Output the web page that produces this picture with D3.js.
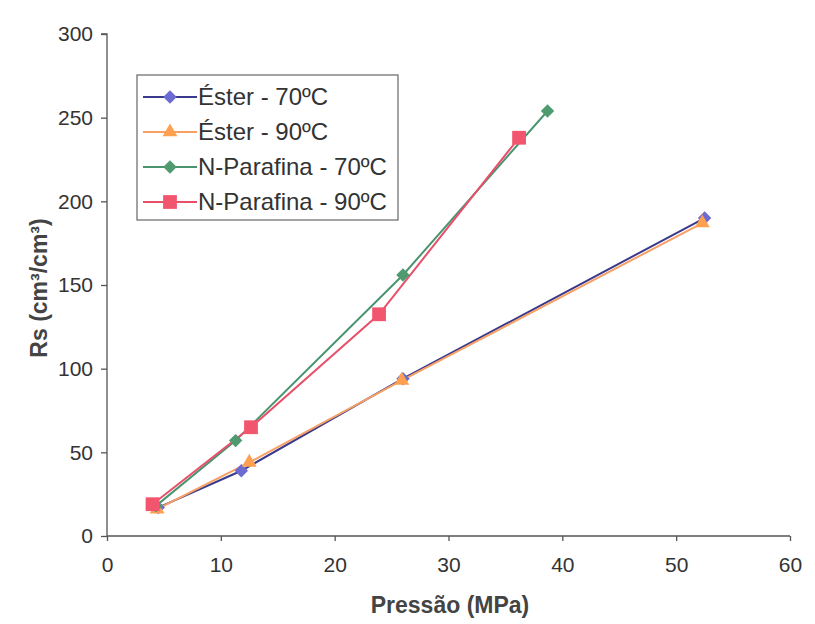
<!DOCTYPE html>
<html><head><meta charset="utf-8">
<script src="https://cdn.jsdelivr.net/npm/d3@7"></script>
<style>body{margin:0;background:#fff;} text{font-family:"Liberation Sans",Arial,sans-serif;}</style>
</head><body><svg id="c" width="815" height="624"></svg>
<script>
const seriesNames = ["Éster - 70ºC", "Éster - 90ºC", "N-Parafina - 70ºC", "N-Parafina - 90ºC"];
const esterX70 = [4.5, 11.8, 26.0, 52.5];
const esterY70 = [17, 39, 94, 190];
const esterX90 = [4.4, 12.5, 25.9, 52.3];
const esterY90 = [16, 44, 93, 187];
const parX70 = [4.3, 11.3, 26.0, 38.7];
const parY70 = [18, 57, 156, 254];
const parX90 = [4.0, 12.65, 23.9, 36.2];
const parY90 = [19, 65, 132.5, 238];
const xTicks = [0, 10, 20, 30, 40, 50, 60];
const yTicks = [0, 50, 100, 150, 200, 250, 300];

const diamond = { draw(ctx, size) { const r = Math.sqrt(size / 2); ctx.moveTo(0, -r); ctx.lineTo(r, 0); ctx.lineTo(0, r); ctx.lineTo(-r, 0); ctx.closePath(); } };

const series = [
  {name: seriesNames[0], xs: esterX70, ys: esterY70, line: "#3a3a8c", fill: "#6b6bd2", sym: diamond, size: 90},
  {name: seriesNames[1], xs: esterX90, ys: esterY90, line: "#f7a066", fill: "#ffa050", sym: d3.symbolTriangle, size: 95},
  {name: seriesNames[2], xs: parX70, ys: parY70, line: "#4a9470", fill: "#4f9a6e", sym: diamond, size: 90},
  {name: seriesNames[3], xs: parX90, ys: parY90, line: "#e8506a", fill: "#f2566e", sym: d3.symbolSquare, size: 190}
];

const svg = d3.select("#c");
const x = d3.scaleLinear().domain([0, 60]).range([107, 790]);
const y = d3.scaleLinear().domain([0, 300]).range([536, 34]);

const xAxis = svg.append("g").attr("transform", "translate(0,536)")
  .call(d3.axisBottom(x).tickValues(xTicks).tickSize(5).tickPadding(16).tickFormat(d3.format("d")));
const yAxis = svg.append("g").attr("transform", "translate(107,0)")
  .call(d3.axisLeft(y).tickValues(yTicks).tickSize(6).tickPadding(8).tickFormat(d3.format("d")));
[xAxis, yAxis].forEach(a => {
  a.selectAll("path,line").attr("stroke", "#555").attr("stroke-width", 1.3);
  a.selectAll("text").attr("font-size", 21).attr("fill", "#333").style("font-family", "Liberation Sans, Arial, sans-serif");
});
xAxis.select(".domain").attr("d", "M107,0H790");
yAxis.select(".domain").attr("d", "M-6,34H0V536");

svg.append("text").attr("x", 450).attr("y", 613).attr("text-anchor", "middle")
  .attr("font-size", 23).attr("font-weight", "bold").attr("fill", "#444").text("Pressão (MPa)");
svg.append("text").attr("transform", "translate(47,288) rotate(-90)").attr("text-anchor", "middle")
  .attr("font-size", 23).attr("font-weight", "bold").attr("fill", "#444").text("Rs (cm³/cm³)");

const line = d3.line().x(d => x(d[0])).y(d => y(d[1]));
series.forEach(s => {
  const pts = s.xs.map((v, i) => [v, s.ys[i]]);
  svg.append("path").datum(pts).attr("d", line).attr("fill", "none")
    .attr("stroke", s.line).attr("stroke-width", 2);
});
series.forEach(s => {
  const pts = s.xs.map((v, i) => [v, s.ys[i]]);
  svg.append("g").selectAll("path").data(pts).join("path")
    .attr("transform", d => `translate(${x(d[0])},${y(d[1])})`)
    .attr("d", d3.symbol().type(s.sym).size(s.size)).attr("fill", s.fill);
});

// legend
const lg = svg.append("g");
lg.append("rect").attr("x", 137).attr("y", 75).attr("width", 261).attr("height", 145)
  .attr("fill", "#fff").attr("stroke", "#666").attr("stroke-width", 1.2);
series.forEach((s, i) => {
  const yy = 97 + i * 35;
  lg.append("line").attr("x1", 143).attr("x2", 197).attr("y1", yy).attr("y2", yy)
    .attr("stroke", s.line).attr("stroke-width", 2);
  lg.append("path").attr("transform", `translate(170,${yy})`)
    .attr("d", d3.symbol().type(s.sym).size(s.size)).attr("fill", s.fill);
  lg.append("text").attr("x", 198).attr("y", yy + 8).attr("font-size", 24).attr("fill", "#333").text(s.name);
});
</script></body></html>
